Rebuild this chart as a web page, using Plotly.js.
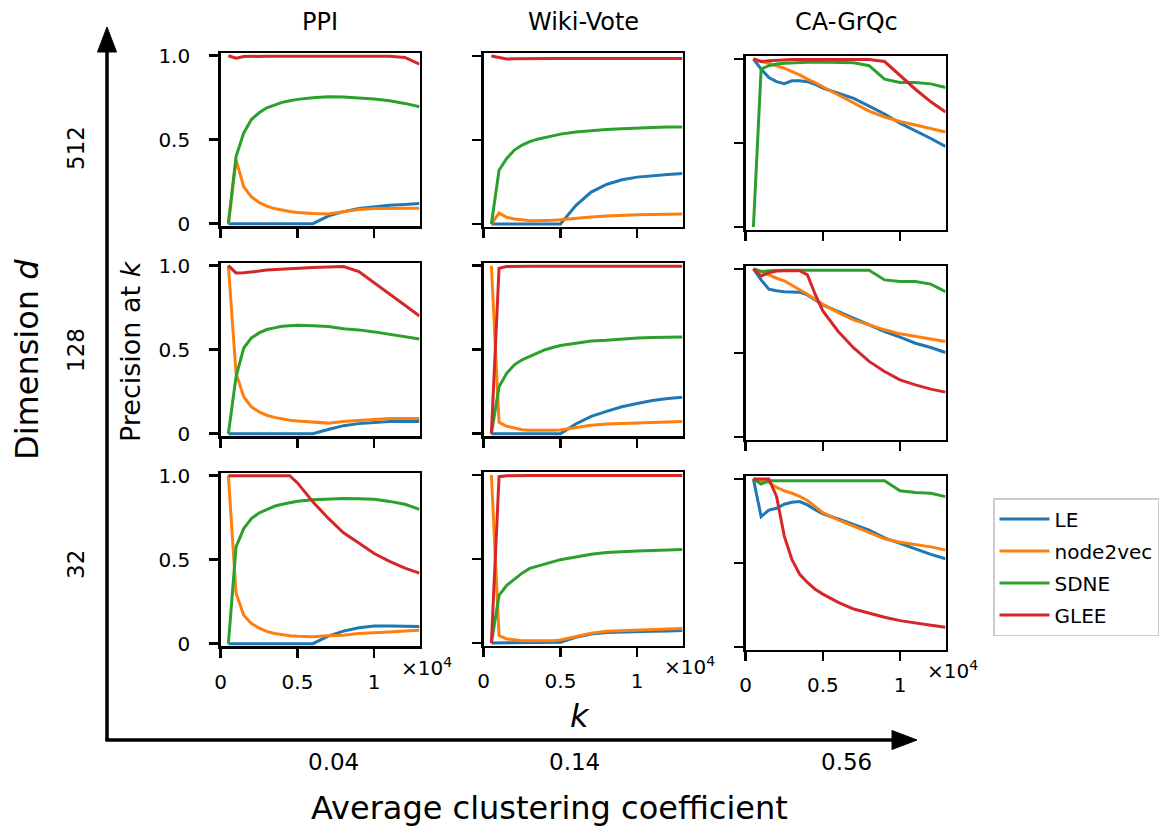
<!DOCTYPE html>
<html>
<head>
<meta charset="utf-8">
<script src="https://cdn.plot.ly/plotly-3.0.1.min.js"></script>
<style>html,body{margin:0;padding:0;background:#fff;}#chart{width:1171px;height:830px;}</style>
</head>
<body>
<div id="chart"></div>
<script>
// ---------------- data ----------------
const k = [500,1000,1500,2000,2500,3000,3500,4000,4500,5000,6000,7000,8000,9000,10000,11000,12000,12950];
const methods = ["LE","node2vec","SDNE","GLEE"];
const datasets = ["PPI","Wiki-Vote","CA-GrQc"];
const clustering = ["0.04","0.14","0.56"];
const dims = ["512","128","32"];

// PPI
const ppi512_LE   = [0,0,0,0,0,0,0,0,0,0,0,0.045,0.072,0.09,0.10,0.11,0.115,0.12];
const ppi512_n2v  = [0,0.38,0.22,0.16,0.127,0.105,0.09,0.08,0.073,0.067,0.06,0.058,0.07,0.085,0.09,0.092,0.093,0.092];
const ppi512_SDNE = [0,0.40,0.54,0.62,0.66,0.69,0.706,0.722,0.732,0.74,0.75,0.756,0.754,0.75,0.742,0.732,0.716,0.696];
const ppi512_GLEE = [1.0,0.985,0.995,0.997,0.997,0.997,0.997,0.997,0.997,0.997,0.997,0.997,0.997,0.997,0.997,0.996,0.99,0.95];

const ppi128_LE   = [0,0,0,0,0,0,0,0,0,0,0,0.025,0.048,0.06,0.068,0.072,0.073,0.073];
const ppi128_n2v  = [1.0,0.36,0.22,0.16,0.13,0.11,0.097,0.087,0.08,0.075,0.067,0.063,0.073,0.08,0.087,0.09,0.09,0.09];
const ppi128_SDNE = [0,0.34,0.51,0.57,0.60,0.62,0.63,0.64,0.643,0.645,0.642,0.638,0.625,0.618,0.606,0.592,0.578,0.564];
const ppi128_GLEE = [1.0,0.957,0.958,0.962,0.968,0.975,0.978,0.982,0.985,0.987,0.99,0.993,0.995,0.965,0.9,0.835,0.765,0.70];

const ppi32_LE    = [0,0,0,0,0,0,0,0,0,0,0,0.045,0.075,0.095,0.105,0.105,0.103,0.103];
const ppi32_n2v   = [1.0,0.30,0.17,0.12,0.093,0.073,0.061,0.053,0.048,0.044,0.042,0.048,0.05,0.06,0.067,0.07,0.075,0.08];
const ppi32_SDNE  = [0,0.576,0.685,0.745,0.778,0.80,0.818,0.83,0.84,0.848,0.857,0.863,0.865,0.863,0.86,0.847,0.83,0.80];
const ppi32_GLEE  = [1,1,1,1,1,1,1,1,1,0.957,0.845,0.747,0.66,0.60,0.537,0.49,0.45,0.42];

// Wiki-Vote
const wiki512_LE   = [0,0,0,0,0,0,0,0,0,0,0.11,0.19,0.235,0.263,0.279,0.288,0.295,0.30];
const wiki512_n2v  = [0,0.065,0.04,0.03,0.025,0.02,0.02,0.02,0.022,0.025,0.035,0.042,0.047,0.052,0.055,0.057,0.059,0.06];
const wiki512_SDNE = [0,0.32,0.39,0.44,0.47,0.49,0.505,0.515,0.525,0.535,0.548,0.556,0.562,0.567,0.572,0.575,0.577,0.578];
const wiki512_GLEE = [1.0,0.99,0.982,0.984,0.985,0.985,0.985,0.985,0.985,0.985,0.985,0.985,0.985,0.985,0.985,0.985,0.985,0.985];

const wiki128_LE   = [0,0,0,0,0,0,0,0,0,0,0.058,0.103,0.133,0.16,0.18,0.197,0.209,0.217];
const wiki128_n2v  = [1.0,0.068,0.044,0.034,0.024,0.02,0.019,0.018,0.02,0.022,0.038,0.05,0.058,0.062,0.066,0.068,0.07,0.072];
const wiki128_SDNE = [0,0.28,0.36,0.41,0.44,0.46,0.48,0.50,0.513,0.525,0.538,0.552,0.556,0.565,0.57,0.572,0.574,0.576];
const wiki128_GLEE = [0,0.985,0.995,0.997,0.997,0.997,0.997,0.997,0.997,0.997,0.997,0.997,0.997,0.997,0.997,0.997,0.997,0.997];

const wiki32_LE    = [0,0,0,0,0,0,0,0,0,0.004,0.034,0.054,0.062,0.066,0.068,0.07,0.072,0.074];
const wiki32_n2v   = [1.0,0.044,0.024,0.018,0.014,0.013,0.012,0.012,0.014,0.018,0.038,0.058,0.07,0.074,0.078,0.08,0.082,0.086];
const wiki32_SDNE  = [0,0.283,0.343,0.38,0.416,0.444,0.456,0.468,0.482,0.496,0.512,0.528,0.538,0.544,0.548,0.55,0.554,0.556];
const wiki32_GLEE  = [0,0.99,0.995,0.997,0.997,0.997,0.997,0.997,0.997,0.997,0.997,0.997,0.997,0.997,0.997,0.997,0.997,0.997];

// CA-GrQc
const ca512_LE   = [1.0,0.94,0.89,0.865,0.853,0.87,0.87,0.865,0.85,0.826,0.796,0.766,0.72,0.673,0.618,0.574,0.527,0.48];
const ca512_n2v  = [1.0,0.985,0.975,0.96,0.945,0.925,0.905,0.88,0.86,0.835,0.785,0.74,0.69,0.655,0.628,0.607,0.587,0.565];
const ca512_SDNE = [0,0.94,0.96,0.97,0.975,0.978,0.98,0.98,0.982,0.982,0.982,0.978,0.96,0.88,0.86,0.86,0.852,0.83];
const ca512_GLEE = [1.0,0.985,0.99,0.993,0.995,0.997,0.997,0.997,0.997,0.997,0.997,0.997,0.997,0.985,0.9,0.82,0.745,0.685];

const ca128_LE   = [1.0,0.935,0.88,0.87,0.865,0.863,0.862,0.846,0.816,0.786,0.746,0.707,0.667,0.628,0.594,0.558,0.533,0.503];
const ca128_n2v  = [1.0,0.985,0.965,0.945,0.93,0.905,0.88,0.85,0.82,0.79,0.74,0.697,0.667,0.638,0.614,0.598,0.582,0.568];
const ca128_SDNE = [1.0,0.985,0.99,0.993,0.993,0.993,0.993,0.993,0.993,0.993,0.993,0.993,0.993,0.935,0.925,0.925,0.91,0.865];
const ca128_GLEE = [1.0,0.958,0.978,0.988,0.99,0.99,0.99,0.965,0.85,0.75,0.628,0.53,0.45,0.39,0.34,0.31,0.285,0.267];

const ca32_LE    = [1.0,0.776,0.815,0.826,0.85,0.862,0.866,0.846,0.817,0.793,0.762,0.728,0.695,0.65,0.616,0.585,0.551,0.525];
const ca32_n2v   = [1.0,0.99,0.98,0.95,0.93,0.915,0.896,0.872,0.837,0.80,0.757,0.718,0.683,0.644,0.624,0.61,0.596,0.577];
const ca32_SDNE  = [1.0,0.97,0.99,0.99,0.99,0.99,0.99,0.99,0.99,0.99,0.992,0.993,0.993,0.99,0.93,0.92,0.915,0.895];
const ca32_GLEE  = [1.0,1.0,1.0,0.896,0.66,0.52,0.433,0.384,0.344,0.315,0.266,0.226,0.2,0.177,0.157,0.142,0.13,0.118];

const xTickVals = [0,5000,10000];
const xTickText = ["0","0.5","1"];
const yTickVals = [0,0.5,1];
const yTickText = ["0","0.5","1.0"];

// panels[row][col] -> [LE, node2vec, SDNE, GLEE]
const panels = [
  [[ppi512_LE,ppi512_n2v,ppi512_SDNE,ppi512_GLEE],[wiki512_LE,wiki512_n2v,wiki512_SDNE,wiki512_GLEE],[ca512_LE,ca512_n2v,ca512_SDNE,ca512_GLEE]],
  [[ppi128_LE,ppi128_n2v,ppi128_SDNE,ppi128_GLEE],[wiki128_LE,wiki128_n2v,wiki128_SDNE,wiki128_GLEE],[ca128_LE,ca128_n2v,ca128_SDNE,ca128_GLEE]],
  [[ppi32_LE,ppi32_n2v,ppi32_SDNE,ppi32_GLEE],[wiki32_LE,wiki32_n2v,wiki32_SDNE,wiki32_GLEE],[ca32_LE,ca32_n2v,ca32_SDNE,ca32_GLEE]]
];

// ---------------- layout helpers ----------------
const W = 1171, H = 830;
const px = v => v / W;
const py = v => 1 - v / H;
const colors = ["#1f77b4","#ff7f0e","#2ca02c","#d62728"];
const FONT = "DejaVu Sans, sans-serif";

const colX = [[220.7, 419.5],[483.7, 682.5],[745.7, 945.5]];
// pixel of y=1.0 for each [row][col]
const yOne = [[55.7, 56, 59],[265.7, 265.7, 269],[475.7, 475, 479]];
const yScale = 168;
const yRange = [-0.015, 1.015];

const traces = [];
const layout = {
  width: W, height: H,
  margin: {l:0, r:0, t:0, b:0},
  paper_bgcolor: "white", plot_bgcolor: "white",
  showlegend: true,
  legend: {
    x: px(993), y: py(498), xanchor: "left", yanchor: "top",
    bordercolor: "#cccccc", borderwidth: 1.5, bgcolor: "white",
    font: {family: FONT, size: 20, color: "#000"},
    itemwidth: 50,
    tracegroupgap: 3
  },
  annotations: [], shapes: []
};

for (let r = 0; r < 3; r++) {
  for (let c = 0; c < 3; c++) {
    const idx = r * 3 + c + 1;
    const xa = idx === 1 ? "x" : "x" + idx;
    const ya = idx === 1 ? "y" : "y" + idx;
    const top = yOne[r][c] - (yRange[1] - 1) * yScale;
    const bot = yOne[r][c] + yScale - yRange[0] * yScale;
    const axCommon = {
      showline: true, mirror: true, linecolor: "#000", linewidth: 2.5,
      ticks: "outside", ticklen: 9, tickwidth: 2.5, tickcolor: "#000",
      showgrid: false, zeroline: false, fixedrange: true,
      tickfont: {family: FONT, size: 20, color: "#000"}
    };
    layout["xaxis" + (idx === 1 ? "" : idx)] = Object.assign({}, axCommon, {
      domain: [px(colX[c][0]), px(colX[c][1])],
      range: [0, 12950], anchor: ya,
      tickmode: "array", tickvals: xTickVals, ticktext: xTickText,
      showticklabels: r === 2, ticklabelstandoff: 7
    });
    layout["yaxis" + (idx === 1 ? "" : idx)] = Object.assign({}, axCommon, {
      domain: [py(bot), py(top)],
      range: yRange, anchor: xa,
      tickmode: "array", tickvals: yTickVals, ticktext: yTickText,
      showticklabels: c === 0, ticklabelstandoff: 15
    });
    for (let m = 0; m < 4; m++) {
      traces.push({
        type: "scatter", mode: "lines",
        x: k, y: panels[r][c][m],
        xaxis: xa, yaxis: ya,
        name: methods[m], legendgroup: methods[m],
        showlegend: idx === 1,
        line: {color: colors[m], width: 3},
        hoverinfo: "skip"
      });
    }
    if (r === 2) {
      layout.annotations.push({
        xref: "paper", yref: "paper",
        x: px(colX[c][1] - 21), y: py(yOne[r][c] + yScale + 23),
        xanchor: "left", yanchor: "middle", showarrow: false,
        text: "×10<sup>4</sup>", font: {family: FONT, size: 20, color: "#000"}
      });
    }
  }
}

function ann(text, x, y, size, angle, extra) {
  layout.annotations.push(Object.assign({
    xref: "paper", yref: "paper", x: px(x), y: py(y),
    xanchor: "center", yanchor: "middle", showarrow: false,
    text: text, textangle: angle || 0,
    font: {family: FONT, size: size, color: "#000"}
  }, extra || {}));
}

// column titles
ann(datasets[0], 320, 22, 24);
ann(datasets[1], 583, 22, 24);
ann(datasets[2], 846, 22, 24);
// row labels
ann(dims[0], 76, 148, 23, -90);
ann(dims[1], 76, 350, 23, -90);
ann(dims[2], 76, 565, 23, -90);
ann("Dimension <i>d</i>", 27, 360, 32, -90);
ann("Precision at <i>k</i>", 130, 351, 27, -90);
ann("<i>k</i>", 580, 716, 32);
ann(clustering[0], 333, 762, 23);
ann(clustering[1], 574, 762, 23);
ann(clustering[2], 846, 762, 23);
ann("Average clustering coefficient", 549, 808, 32);

// arrows
const lineStyle = {color: "#000", width: 3.5};
layout.shapes.push({type: "line", xref: "paper", yref: "paper",
  x0: px(107), y0: py(741), x1: px(107), y1: py(48), line: lineStyle});
layout.shapes.push({type: "line", xref: "paper", yref: "paper",
  x0: px(105.5), y0: py(740), x1: px(896), y1: py(740), line: lineStyle});
function tri(x1,y1,x2,y2,x3,y3){
  return "M" + px(x1) + "," + py(y1) + " L" + px(x2) + "," + py(y2) + " L" + px(x3) + "," + py(y3) + " Z";
}
layout.shapes.push({type: "path", xref: "paper", yref: "paper",
  path: tri(107, 27, 97.5, 52, 116.5, 52), fillcolor: "#000", line: {color: "#000", width: 1}});
layout.shapes.push({type: "path", xref: "paper", yref: "paper",
  path: tri(917, 740, 892, 730.5, 892, 749.5), fillcolor: "#000", line: {color: "#000", width: 1}});

Plotly.newPlot("chart", traces, layout, {displayModeBar: false, staticPlot: true});
</script>
</body>
</html>
